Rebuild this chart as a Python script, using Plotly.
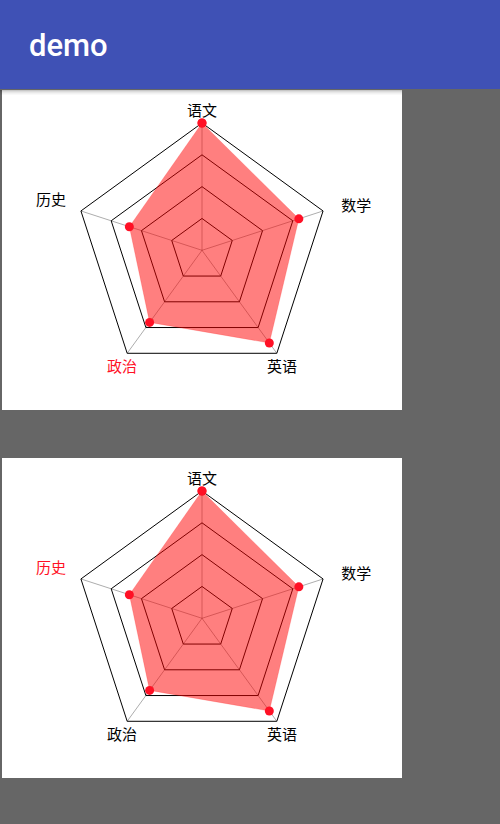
import plotly.graph_objects as go

W, H = 500, 824

subjects = ["语文", "数学", "英语", "政治", "历史"]
scores = [100, 80, 90, 70, 60]
radial_ticks = [25, 50, 75, 100]
max_score = 100
highlight = ["政治", "历史"]  # highlighted label per chart

# label placement style (radius in axis units, text anchor)
label_r = [108.2, 127.5, 107, 107, 124.8]
label_pos = ["middle center", "bottom center", "bottom center", "bottom center", "middle center"]
axis_max = 130  # extra room beyond max score for labels

BLUE = "#3F51B5"
BG = "#666666"
RED = "#FF1025"
FILL = "rgba(255,0,0,0.5)"

# panel geometry in pixels (top-left origin)
panels = [(2, 90, 402, 410), (2, 458, 402, 778)]
centers = [(202, 250.3), (202, 618.3)]
R100 = 127.3
R = R100 * axis_max / max_score


def px_x(x):
    return x / W


def px_y(y):
    return 1 - y / H


fig = go.Figure()
shapes = []

# app bar
shapes.append(dict(type="rect", xref="paper", yref="paper", x0=0, x1=1,
                   y0=px_y(89), y1=1, fillcolor=BLUE, line=dict(width=0), layer="below"))
# panels
for (x0, y0, x1, y1) in panels:
    shapes.append(dict(type="rect", xref="paper", yref="paper", x0=px_x(x0), x1=px_x(x1),
                       y0=px_y(y1), y1=px_y(y0), fillcolor="white", line=dict(width=0),
                       layer="below"))
# app bar shadow
for i, a in enumerate([0.22, 0.14, 0.09, 0.05, 0.025]):
    shapes.append(dict(type="rect", xref="paper", yref="paper", x0=0, x1=px_x(402),
                       y0=px_y(90 + i + 1), y1=px_y(90 + i), fillcolor=f"rgba(0,0,0,{a})",
                       line=dict(width=0), layer="below"))

layout_polars = {}
for k, ((cx, cy), hl) in enumerate(zip(centers, highlight)):
    name = "polar" if k == 0 else f"polar{k+1}"
    # spokes from centre to each outer vertex
    sr, st = [], []
    for s in subjects:
        sr += [0, max_score, None]
        st += [s, s, None]
    fig.add_trace(go.Scatterpolar(
        r=sr, theta=st, mode="lines", connectgaps=False,
        line=dict(color="rgba(0,0,0,0.55)", width=0.6),
        subplot=name, showlegend=False, hoverinfo="skip"))
    fig.add_trace(go.Scatterpolar(
        r=scores + scores[:1], theta=subjects + subjects[:1],
        mode="lines+markers", fill="toself", fillcolor=FILL,
        line=dict(color="rgba(255,0,0,0.35)", width=0.5),
        marker=dict(color=RED, size=9),
        subplot=name, showlegend=False, hoverinfo="skip"))
    # category labels
    fig.add_trace(go.Scatterpolar(
        r=label_r, theta=subjects, mode="text", text=subjects,
        textposition=label_pos, cliponaxis=False,
        textfont=dict(size=15, family="Noto Sans CJK SC",
                      color=[RED if s == hl else "black" for s in subjects]),
        subplot=name, showlegend=False, hoverinfo="skip"))
    layout_polars[name] = dict(
        domain=dict(x=[px_x(cx - R), px_x(cx + R)], y=[px_y(cy + R), px_y(cy - R)]),
        bgcolor="rgba(0,0,0,0)",
        gridshape="linear",
        radialaxis=dict(range=[0, axis_max], tickvals=radial_ticks, showticklabels=False,
                        ticks="", showline=False, gridcolor="black", gridwidth=1),
        angularaxis=dict(rotation=90, direction="clockwise", categoryorder="array",
                         categoryarray=subjects, showticklabels=False,
                         showline=False, showgrid=False, ticks=""),
    )

fig.update_layout(
    width=W, height=H, margin=dict(l=0, r=0, t=0, b=0),
    paper_bgcolor=BG, plot_bgcolor=BG,
    shapes=shapes,
    annotations=[dict(text="demo", xref="paper", yref="paper", x=px_x(27), y=px_y(46),
                      xanchor="left", yanchor="middle", showarrow=False,
                      font=dict(size=31, color="white", family="Roboto", weight=500))],
    **layout_polars,
)

fig.write_html("out.html")
